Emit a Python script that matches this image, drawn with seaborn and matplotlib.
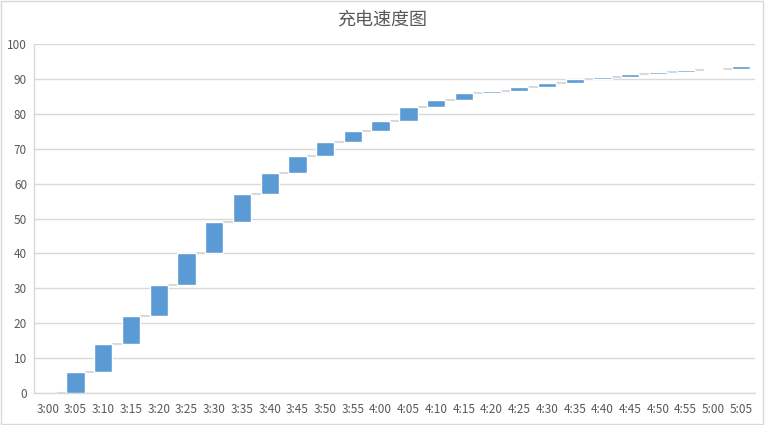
import numpy as np
import matplotlib
matplotlib.use("Agg")
import matplotlib.pyplot as plt
import seaborn as sns

# battery level read at each time
times = ["3:00", "3:05", "3:10", "3:15", "3:20", "3:25", "3:30", "3:35", "3:40",
         "3:45", "3:50", "3:55", "4:00", "4:05", "4:10", "4:15", "4:20", "4:25",
         "4:30", "4:35", "4:40", "4:45", "4:50", "4:55", "5:00", "5:05"]
levels = [0, 6, 14, 22, 31, 40, 49, 57, 63, 68, 72, 75, 78, 82, 84, 86, 86.6,
          87.6, 88.8, 90.0, 90.6, 91.5, 91.9, 92.5, 92.8, 93.7]

levels = np.array(levels, dtype=float)
base = np.concatenate([[0.0], levels[:-1]])
delta = levels - base

sns.set_theme(style="white")
plt.rcParams['font.family'] = ['Noto Sans CJK SC', 'DejaVu Sans']

fig = plt.figure(figsize=(7.65, 4.25), dpi=100)
ax = fig.add_axes([34 / 765, 1 - 393 / 425, (755 - 34) / 765, (393 - 44) / 425])

bar_w = 0.66
sns.barplot(x=times, y=delta, bottom=base, color="#5B9BD5", width=bar_w,
            saturation=1, ax=ax, zorder=3)

# connector lines between bars
xs = np.arange(len(times))
ax.hlines(levels[:-1], xs[:-1] + bar_w / 2, xs[1:] - bar_w / 2,
          color="#d9d9d9", linewidth=1.5, zorder=2)

ax.set_xlim(-0.5, len(times) - 0.5)
ax.set_ylim(0, 100)
ax.set_yticks(range(0, 101, 10))
ax.yaxis.grid(True, color="#d9d9d9", linewidth=1)
ax.set_axisbelow(True)
for side in ["top", "right"]:
    ax.spines[side].set_visible(False)
for side in ["left", "bottom"]:
    ax.spines[side].set_color("#d9d9d9")
    ax.spines[side].set_linewidth(1)
ax.tick_params(axis="both", length=0, labelsize=8.5, colors="#595959")
ax.tick_params(axis="x", pad=7)
ax.tick_params(axis="y", pad=5)

fig.text(0.5, 1 - 20 / 425, "充电速度图", ha="center", va="center",
         fontsize=13, color="#595959")

# chart area border
fig.patches.append(plt.Rectangle((0.001, 0.002), 0.997, 0.996, transform=fig.transFigure,
                                 fill=False, edgecolor="#d9d9d9", linewidth=1))

fig.savefig("out.png", dpi=100)
